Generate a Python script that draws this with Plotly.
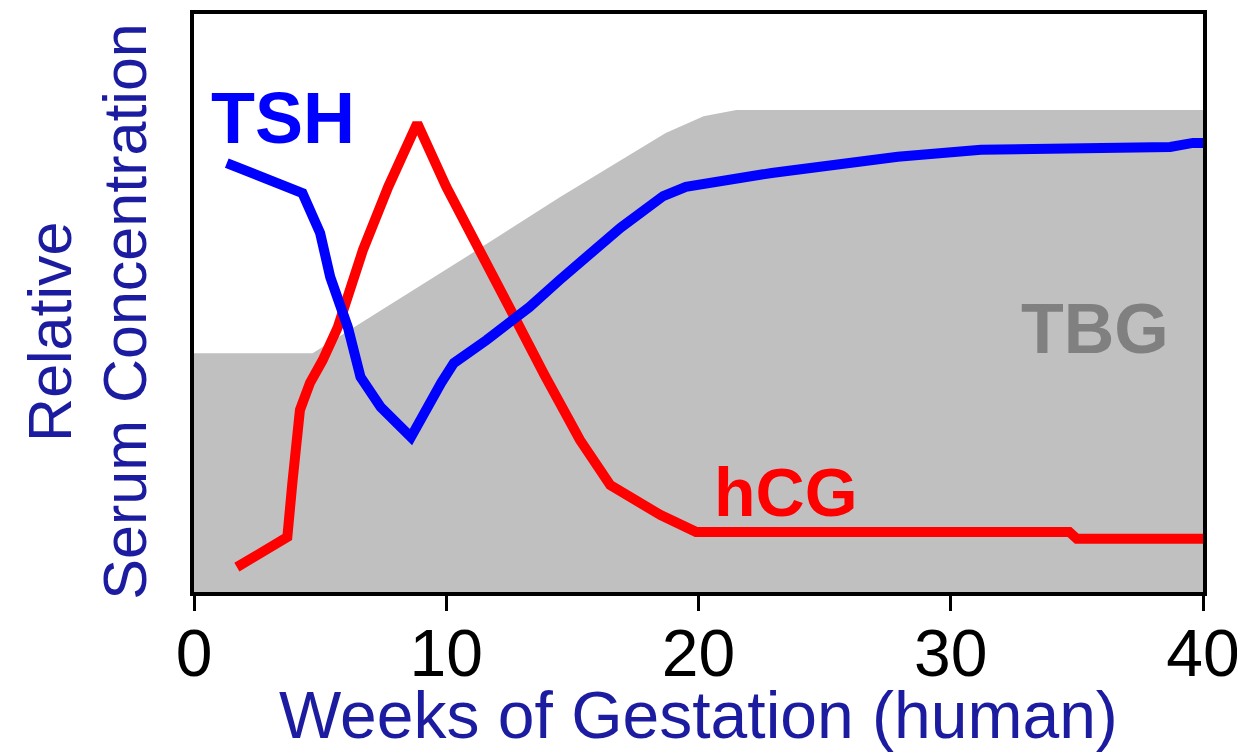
import plotly.graph_objects as go

# TBG (gray area)
tbg_weeks = [0, 4.7, 10.8, 14.5, 18.7, 20.2, 21.5, 40]
tbg_vals = [41.3, 41.3, 58.0, 68.3, 79.4, 82.3, 83.4, 83.4]

# TSH (blue)
tsh_weeks = [1.3, 2.7, 4.3, 5.0, 5.4, 6.1, 6.6, 7.4, 8.6, 9.8, 10.3, 11.6, 13.3, 14.5,
             15.3, 16.9, 18.6, 19.5, 22.9, 27.9, 31.2, 38.7, 39.6, 40]
tsh_vals = [74.2, 71.8, 69.0, 62.1, 54.5, 45.8, 37.2, 32.0, 26.8, 36.2, 39.6, 43.6, 49.3, 54.0,
            57.1, 63.0, 68.5, 70.1, 72.5, 75.3, 76.5, 77.0, 77.7, 77.7]

# hCG (red)
hcg_weeks = [1.7, 3.4, 3.7, 3.9, 4.2, 4.6, 5.1, 5.7, 6.3, 6.7, 7.7, 8.85, 10.0, 11.3, 12.7,
             13.9, 15.3, 16.5, 17.0, 18.5, 19.9, 34.7, 35.0, 40]
hcg_vals = [4.3, 8.5, 9.5, 18.9, 31.5, 36.2, 40.1, 45.8, 53.5, 59.2, 70.1, 81.1, 70.1, 59.7, 47.6,
            37.5, 26.3, 18.5, 17.1, 13.3, 10.4, 10.4, 9.2, 9.2]

x_ticks = [0, 10, 20, 30, 40]

NAVY = "#1c1ca0"
FONT = "Liberation Sans, Arial, sans-serif"

fig = go.Figure()
fig.add_trace(go.Scatter(x=tbg_weeks, y=tbg_vals, mode="lines", fill="tozeroy",
                         fillcolor="#c0c0c0", line=dict(width=0, color="#c0c0c0"),
                         hoverinfo="skip", showlegend=False))
fig.add_trace(go.Scatter(x=hcg_weeks, y=hcg_vals, mode="lines",
                         line=dict(color="#ff0000", width=10), showlegend=False))
fig.add_trace(go.Scatter(x=tsh_weeks, y=tsh_vals, mode="lines",
                         line=dict(color="#0000ff", width=10), showlegend=False))

fig.add_annotation(x=3.53, y=82.0, text="<b>TSH</b>", showarrow=False,
                   xanchor="center", yanchor="middle",
                   font=dict(family=FONT, size=72, color="#0000ff"))
fig.add_annotation(x=23.45, y=17.3, text="<b>hCG</b>", showarrow=False,
                   xanchor="center", yanchor="middle",
                   font=dict(family=FONT, size=68, color="#ff0000"))
fig.add_annotation(x=35.7, y=45.5, text="<b>TBG</b>", showarrow=False,
                   xanchor="center", yanchor="middle",
                   font=dict(family=FONT, size=70, color="#808080"))

fig.add_annotation(x=-0.1427, y=0.45, xref="paper", yref="paper", text="Relative",
                   textangle=-90, showarrow=False, xanchor="center", yanchor="middle",
                   font=dict(family=FONT, size=61, color=NAVY))
fig.add_annotation(x=-0.0684, y=0.485, xref="paper", yref="paper", text="Serum Concentration",
                   textangle=-90, showarrow=False, xanchor="center", yanchor="middle",
                   font=dict(family=FONT, size=61, color=NAVY))
fig.add_annotation(x=0.5, y=-0.213, xref="paper", yref="paper",
                   text="Weeks of Gestation (human)", showarrow=False,
                   xanchor="center", yanchor="middle",
                   font=dict(family=FONT, size=66, color=NAVY))

# page body has an 8px margin, so the figure is sized/offset to compensate
fig.update_layout(
    width=1237, height=745,
    margin=dict(l=186, r=42, t=6, b=161, autoexpand=False),
    paper_bgcolor="white", plot_bgcolor="white",
    showlegend=False,
)
fig.update_xaxes(range=[0, 40], tickvals=x_ticks, ticktext=[str(t) for t in x_ticks],
                 showgrid=False, zeroline=False, showline=True, linewidth=4, linecolor="black",
                 mirror=True, ticks="outside", ticklen=15, tickwidth=3, tickcolor="black",
                 ticklabelstandoff=-14, automargin=False,
                 tickfont=dict(family=FONT, size=66, color="black"))
fig.update_yaxes(range=[0, 100], showticklabels=False, showgrid=False, zeroline=False,
                 showline=True, linewidth=4, linecolor="black", mirror=True, ticks="",
                 automargin=False)

fig.write_html("out.html")
